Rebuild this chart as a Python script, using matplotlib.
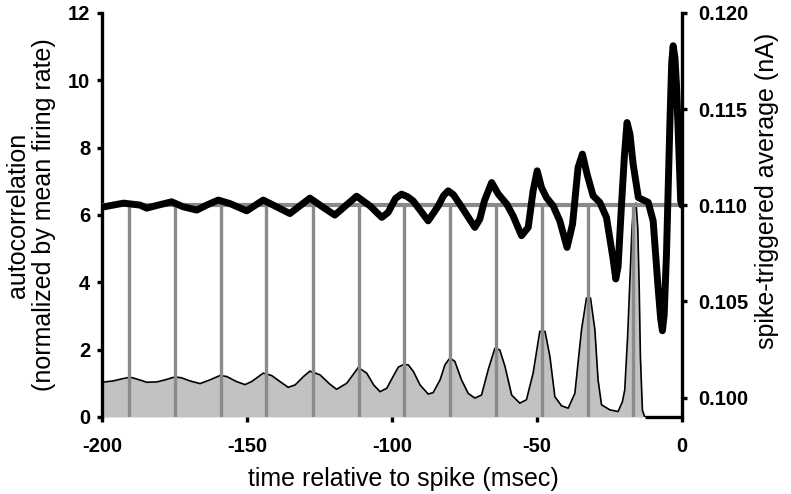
import matplotlib
matplotlib.use("Agg")
import matplotlib.pyplot as plt

plt.rcParams['font.family'] = ['Liberation Sans', 'DejaVu Sans']

# autocorrelation (normalized by mean firing rate)
ac_time = [-200, -196.1, -193.2, -190.3, -188.6, -186.3, -184.6, -181.1, -178.3, -174.8,
           -172.5, -169.7, -166.2, -162.8, -159.3, -157.0, -153.6, -150.7, -148.4, -144.4,
           -141.5, -138.6, -135.8, -133.4, -130.5, -128.3, -124.8, -121.5, -119.1, -115.6,
           -113.2, -111.6, -108.7, -106.3, -104.1, -101.8, -99.6, -97.8, -96.1, -94.4,
           -92.6, -90.3, -87.5, -85.8, -83.4, -81.7, -80.0, -78.3, -76.0, -73.7,
           -71.4, -69.1, -66.8, -64.5, -62.8, -61.0, -58.7, -55.9, -53.6, -51.3,
           -49.0, -47.2, -45.5, -43.8, -41.5, -39.2, -36.9, -34.6, -32.9, -31.5,
           -30.0, -28.9, -27.7, -24.8, -22.0, -20.5, -19.7, -18.7, -17.9, -17.2,
           -16.6, -15.8, -15.2, -14.7, -14.3, -13.6, -12.8, 0]
ac_value = [1.03, 1.07, 1.13, 1.18, 1.14, 1.08, 1.03, 1.04, 1.10, 1.19,
            1.16, 1.07, 0.99, 1.10, 1.23, 1.20, 1.05, 0.96, 1.05, 1.30,
            1.23, 1.05, 0.88, 0.95, 1.20, 1.36, 1.25, 0.98, 0.82, 1.00,
            1.28, 1.47, 1.30, 0.95, 0.75, 0.85, 1.20, 1.48, 1.55, 1.55,
            1.35, 0.95, 0.68, 0.72, 1.10, 1.55, 1.75, 1.65, 1.10, 0.70,
            0.56, 0.65, 1.40, 2.04, 1.99, 1.50, 0.65, 0.41, 0.51, 1.30,
            2.54, 2.54, 1.79, 0.60, 0.33, 0.26, 0.70, 2.59, 3.53, 3.53,
            2.59, 1.10, 0.36, 0.21, 0.16, 0.45, 0.80, 2.40, 4.08, 5.60,
            6.30, 6.35, 5.60, 3.80, 1.80, 0.20, 0.0, 0.0]

# spike-triggered average (nA)
sta_time = [-200, -192.6, -186.9, -184.6, -181.1, -176.0, -172.0, -167.3, -163.9, -159.9,
            -155.9, -150.1, -144.4, -139.8, -135.2, -128.3, -123.7, -119.7, -112.2, -107.6,
            -103.5, -101.3, -98.8, -96.7, -94.7, -92.7, -87.5, -84.0, -82.2, -80.6,
            -78.8, -76.6, -71.4, -69.7, -68.1, -65.6, -63.3, -60.4, -58.2, -55.3,
            -53.0, -51.3, -49.9, -48.4, -46.7, -44.4, -42.1, -39.6, -37.7, -35.8,
            -34.3, -32.7, -30.6, -28.3, -26.0, -23.7, -22.8, -22.0, -20.8, -19.8,
            -18.9, -17.9, -16.8, -15.0, -11.6, -9.9, -8.2, -7.3, -6.7, -6.1,
            -5.3, -4.1, -3.5, -3.0, -2.4, -1.8, -0.4, 0]
sta_value = [0.10990, 0.11011, 0.11001, 0.10985, 0.10999, 0.11018, 0.10992, 0.10975, 0.11001, 0.11027,
             0.11009, 0.10971, 0.11027, 0.10992, 0.10957, 0.11037, 0.10989, 0.10949, 0.11047, 0.10997,
             0.10937, 0.10963, 0.11035, 0.11058, 0.11045, 0.11023, 0.10919, 0.10997, 0.11050, 0.11075,
             0.11055, 0.11006, 0.10885, 0.10928, 0.11023, 0.11118, 0.11058, 0.11006, 0.10945, 0.10842,
             0.10885, 0.11075, 0.11179, 0.11092, 0.11040, 0.10997, 0.10919, 0.10781, 0.10902, 0.11196,
             0.11266, 0.11162, 0.11049, 0.11015, 0.10937, 0.10720, 0.10617, 0.10680, 0.11006, 0.11260,
             0.11430, 0.11370, 0.11214, 0.11040, 0.11015, 0.10919, 0.10573, 0.10410, 0.10348, 0.10430,
             0.10747, 0.11439, 0.11740, 0.11829, 0.11770, 0.11612, 0.11023, 0.11000]

# peaks of the autocorrelation (msec)
peak_times = [-190.7, -174.9, -159.1, -143.3, -127.4, -111.5, -95.9, -80.1, -64.1, -48.3, -32.5, -16.7]
sta_baseline = 0.110

x_ticks = [-200, -150, -100, -50, 0]
left_ticks = [0, 2, 4, 6, 8, 10, 12]
right_ticks = [0.100, 0.105, 0.110, 0.115, 0.120]

fig = plt.figure(figsize=(7.91, 4.94), dpi=100)
ax = fig.add_axes([0.129, 0.156, 0.733, 0.818])
ax2 = ax.twinx()

ax.fill_between(ac_time, 0, ac_value, color='#c2c2c2', lw=0, zorder=1)
ax.plot(ac_time, ac_value, color='black', lw=1.2, solid_joinstyle='round', zorder=3)
# the flat zero stretch near the spike shows as a heavier black edge
ax.hlines(0, ac_time[-2], ac_time[-1], color='black', lw=2.4, clip_on=False, zorder=4)

ax2.vlines(peak_times, 0.099, sta_baseline, color='#8a8a8a', lw=2.4, zorder=1)
ax2.axhline(sta_baseline, color='#8a8a8a', lw=3, zorder=2)
ax2.plot(sta_time, sta_value, color='black', lw=5, solid_joinstyle='round',
         solid_capstyle='round', zorder=3)

ax.set_xlim(-200, 0)
ax.set_ylim(0, 12)
ax2.set_ylim(0.099, 0.120)

ax.set_xticks(x_ticks)
ax.set_xticklabels([str(t) for t in x_ticks])
ax.set_yticks(left_ticks)
ax2.set_yticks(right_ticks)
ax2.set_yticklabels(['%.3f' % t for t in right_ticks])

for a in (ax, ax2):
    a.spines['top'].set_visible(False)
    a.spines['bottom'].set_visible(False)
    for s in ('left', 'right'):
        a.spines[s].set_linewidth(2.4)
    a.tick_params(direction='out', length=3.5, width=2.4, labelsize=14.5, pad=5)
    for lab in a.get_xticklabels() + a.get_yticklabels():
        lab.set_fontweight('bold')
ax.spines['right'].set_visible(False)
ax2.spines['left'].set_visible(False)
ax.tick_params(axis='x', pad=11)
ax2.tick_params(axis='y', pad=8)

ax.set_xlabel('time relative to spike (msec)', fontsize=18)
ax.set_ylabel('autocorrelation\n(normalized by mean firing rate)', fontsize=18, linespacing=1.1)
ax2.set_ylabel('spike-triggered average (nA)', fontsize=18)
ax.yaxis.set_label_coords(-0.08, 0.5)
ax2.yaxis.set_label_coords(1.127, 0.56)
ax.xaxis.set_label_coords(0.52, -0.123)

fig.savefig('out.png', dpi=100)
